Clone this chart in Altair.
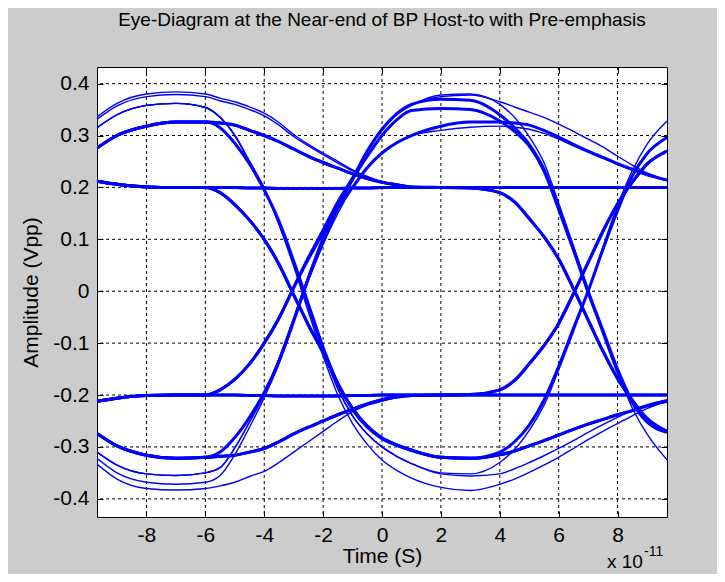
import altair as alt
import pandas as pd

FONT = "Liberation Sans"

# time axis (units of 1e-11 s)
TIME = [-9.68, -9, -8, -7, -6, -5.5, -5, -4.5, -4, -3.5, -3, -2.5, -2, -1.5, -1, -0.5, 0, 0.5, 1,
        2, 3, 4, 4.5, 5, 5.5, 6, 6.5, 7, 7.5, 8, 8.5, 9, 9.68]

# ---- left partial bit (t = -9.68 .. -6) ----
flatH = [0.212, 0.206, 0.201, 0.200, 0.200]
B_L = [0.276, 0.300, 0.318, 0.326, 0.326]
C_L = [0.315, 0.340, 0.358, 0.362, 0.354]
D_L = [0.336, 0.362, 0.380, 0.384, 0.380]
D2_L = [0.331, 0.357, 0.375, 0.379, 0.375]
flatL = [-0.212, -0.206, -0.201, -0.200, -0.200]
Bl_L = [-0.274, -0.298, -0.316, -0.322, -0.320]
Cl_L = [-0.310, -0.335, -0.352, -0.355, -0.350]
C2l_L = [-0.322, -0.350, -0.368, -0.372, -0.368]
Dl_L = [-0.333, -0.362, -0.380, -0.383, -0.380]

# ---- first transition region (t = -5.5 .. 1) ----
flat_hi = [0.200, 0.200, 0.199, 0.199, 0.198, 0.198, 0.198, 0.198, 0.198, 0.199, 0.199, 0.200, 0.200, 0.200]
F1 = [0.190, 0.167, 0.137, 0.100, 0.052, -0.007, -0.065, -0.118, -0.178, -0.226, -0.260, -0.283, -0.296, -0.306]
B_fall = [0.315, 0.285, 0.245, 0.195, 0.135, 0.058, -0.025, -0.108, -0.178, -0.228, -0.262, -0.284, -0.297, -0.307]
C_fall = [0.335, 0.300, 0.250, 0.198, 0.130, 0.052, -0.032, -0.115, -0.188, -0.240, -0.275, -0.300, -0.318, -0.332]
C_fall2 = [0.335, 0.300, 0.250, 0.198, 0.128, 0.048, -0.040, -0.125, -0.200, -0.255, -0.295, -0.325, -0.345, -0.360]
B_decay = [0.324, 0.320, 0.310, 0.300, 0.288, 0.274, 0.260, 0.248, 0.237, 0.226, 0.217, 0.210, 0.205, 0.201]
D_decay = [0.372, 0.365, 0.355, 0.343, 0.325, 0.302, 0.283, 0.266, 0.250, 0.234, 0.221, 0.211, 0.205, 0.201]
D2_decay = [0.367, 0.360, 0.350, 0.338, 0.320, 0.298, 0.280, 0.263, 0.247, 0.232, 0.219, 0.210, 0.204, 0.201]
flat_lo = [-0.200, -0.200, -0.201, -0.201, -0.202, -0.202, -0.202, -0.202, -0.202, -0.201, -0.201, -0.200, -0.200, -0.200]
R1 = [-0.190, -0.170, -0.140, -0.100, -0.052, 0.007, 0.065, 0.118, 0.172, 0.218, 0.270, 0.312, 0.342, 0.360]
R1b = [-0.190, -0.170, -0.140, -0.100, -0.052, 0.007, 0.062, 0.112, 0.160, 0.200, 0.238, 0.266, 0.286, 0.300]
Bl_rise = [-0.310, -0.282, -0.243, -0.195, -0.135, -0.058, 0.025, 0.095, 0.160, 0.215, 0.260, 0.300, 0.330, 0.348]
Cl_rise = [-0.340, -0.302, -0.252, -0.198, -0.130, -0.052, 0.030, 0.105, 0.165, 0.218, 0.270, 0.310, 0.340, 0.358]
C2l_rise = [-0.355, -0.315, -0.262, -0.205, -0.140, -0.060, 0.020, 0.090, 0.150, 0.200, 0.240, 0.268, 0.287, 0.300]
Bl_decay = [-0.318, -0.316, -0.310, -0.303, -0.290, -0.275, -0.262, -0.250, -0.238, -0.227, -0.217, -0.209, -0.204, -0.201]
Dl_decay = [-0.375, -0.368, -0.357, -0.347, -0.330, -0.310, -0.290, -0.270, -0.250, -0.232, -0.220, -0.212, -0.205, -0.201]

# ---- middle bit and second transition (t = 2 .. 9.68) ----
flatM_hi = [0.200, 0.200, 0.200, 0.200, 0.200, 0.200, 0.200, 0.200, 0.200, 0.200, 0.200, 0.200, 0.200, 0.200]
F2 = [0.200, 0.199, 0.190, 0.172, 0.140, 0.105, 0.062, 0.005, -0.055, -0.115, -0.168, -0.210, -0.245, -0.270]
H37_fall = [0.370, 0.368, 0.340, 0.315, 0.283, 0.235, 0.160, 0.082, 0.000, -0.075, -0.150, -0.212, -0.250, -0.270]
H35_fall = [0.352, 0.350, 0.328, 0.308, 0.280, 0.232, 0.158, 0.080, -0.002, -0.078, -0.155, -0.215, -0.252, -0.272]
H38_fall = [0.378, 0.380, 0.360, 0.335, 0.298, 0.248, 0.170, 0.088, 0.003, -0.078, -0.155, -0.225, -0.275, -0.325]
H38_decay = [0.375, 0.378, 0.365, 0.355, 0.345, 0.335, 0.322, 0.308, 0.293, 0.278, 0.260, 0.243, 0.228, 0.214]
H33_decay = [0.318, 0.326, 0.326, 0.324, 0.320, 0.310, 0.297, 0.283, 0.270, 0.258, 0.246, 0.235, 0.225, 0.214]
H32_decay = [0.310, 0.316, 0.318, 0.316, 0.312, 0.304, 0.293, 0.280, 0.268, 0.256, 0.244, 0.233, 0.223, 0.213]
flatM_lo = [-0.200, -0.200, -0.200, -0.200, -0.200, -0.200, -0.200, -0.200, -0.200, -0.200, -0.200, -0.200, -0.200, -0.200]
R2 = [-0.200, -0.199, -0.190, -0.172, -0.140, -0.105, -0.062, -0.005, 0.055, 0.115, 0.168, 0.210, 0.245, 0.270]
L32_rise = [-0.320, -0.322, -0.310, -0.290, -0.258, -0.210, -0.145, -0.072, 0.000, 0.080, 0.155, 0.222, 0.265, 0.296]
L35_rise = [-0.350, -0.352, -0.330, -0.305, -0.268, -0.220, -0.152, -0.078, 0.000, 0.085, 0.165, 0.232, 0.283, 0.328]
L32_decay = [-0.320, -0.322, -0.315, -0.308, -0.298, -0.288, -0.277, -0.266, -0.256, -0.247, -0.238, -0.230, -0.221, -0.212]
L35_decay = [-0.352, -0.356, -0.352, -0.342, -0.330, -0.317, -0.303, -0.288, -0.272, -0.257, -0.243, -0.230, -0.219, -0.209]
L38_decay = [-0.378, -0.384, -0.372, -0.362, -0.349, -0.335, -0.320, -0.303, -0.286, -0.270, -0.255, -0.240, -0.226, -0.212]

TRACES = [
    ("u1", flatH, flat_hi, flatM_hi, "thick"),
    ("u2", flatH, flat_hi, F2, "thick"),
    ("u3", flatH, F1, L32_decay, "thick"),
    ("u4", flatH, F1, L32_rise, "thick"),
    ("u5", B_L, B_decay, flatM_hi, "thick"),
    ("u6", B_L, B_decay, F2, "thick"),
    ("u7", D_L, D_decay, flatM_hi, "thin"),
    ("u7b", D2_L, D2_decay, flatM_hi, "thin"),
    ("u8", B_L, B_fall, L32_decay, "thick"),
    ("u9", C_L, C_fall, L35_rise, "thin"),
    ("u10", C_L, C_fall, L35_decay, "thin"),
    ("u11", C_L, C_fall2, L38_decay, "thin"),
    ("l1", flatL, flat_lo, flatM_lo, "thick"),
    ("l2", flatL, flat_lo, R2, "thick"),
    ("l3", flatL, R1, H37_fall, "thick"),
    ("l3b", flatL, R1b, H33_decay, "thick"),
    ("l4", Bl_L, Bl_decay, flatM_lo, "thick"),
    ("l5", Bl_L, Bl_decay, R2, "thick"),
    ("l6", Dl_L, Dl_decay, flatM_lo, "thin"),
    ("l7", Bl_L, Bl_rise, H35_fall, "thick"),
    ("l8", Cl_L, Cl_rise, H38_fall, "thin"),
    ("l9", Cl_L, Cl_rise, H38_decay, "thin"),
    ("l10", C2l_L, C2l_rise, H32_decay, "thin"),
]
WIDTHS = {"thick": 3.0, "thin": 1.4}

rows = []
for name, a, b, c, kind in TRACES:
    vals = a + b + c
    for t, v in zip(TIME, vals):
        rows.append({"t": t, "v": v, "trace": name, "w": WIDTHS[kind]})
df = pd.DataFrame(rows)

X_TICKS = [-8, -6, -4, -2, 0, 2, 4, 6, 8]
Y_TICKS = [-0.4, -0.3, -0.2, -0.1, 0, 0.1, 0.2, 0.3, 0.4]

xscale = alt.Scale(domain=[-9.68, 9.68], nice=False, zero=False)
yscale = alt.Scale(domain=[-0.435, 0.432], nice=False, zero=False)

TICK = 6
LBL = 21

x_axis = alt.Axis(orient="bottom", values=X_TICKS, grid=False, domain=False,
                  tickSize=TICK, offset=-TICK, tickColor="black", tickWidth=1,
                  labelPadding=7, labelFont=FONT, labelFontSize=LBL, labelColor="black",
                  labelExpr="(datum.value < 0 ? '-' : '') + format(abs(datum.value), 'd')",
                  title="Time (S)", titleFont=FONT, titleFontSize=LBL, titleFontWeight="normal",
                  titleColor="black", titlePadding=0)
y_axis = alt.Axis(orient="left", values=Y_TICKS, grid=False, domain=False,
                  tickSize=TICK, offset=-TICK, tickColor="black", tickWidth=1,
                  labelPadding=8, labelFont=FONT, labelFontSize=LBL, labelColor="black",
                  labelExpr="datum.value == 0 ? '0' : (datum.value < 0 ? '-' : '') + format(abs(datum.value), '.1f')",
                  title="Amplitude (Vpp)", titleFont=FONT, titleFontSize=LBL, titleFontWeight="normal",
                  titleColor="black", titlePadding=11)

xgrid = alt.Chart(pd.DataFrame({"gt": X_TICKS})).mark_rule(
    color="black", strokeDash=[3, 3], strokeWidth=1
).encode(
    x=alt.X("gt:Q", scale=xscale,
            axis=alt.Axis(orient="top", values=X_TICKS, labels=False, title=None, domain=False, grid=False,
                          tickSize=TICK, offset=-TICK, tickColor="black"))
)
ygrid = alt.Chart(pd.DataFrame({"gv": Y_TICKS})).mark_rule(
    color="black", strokeDash=[3, 3], strokeWidth=1
).encode(
    y=alt.Y("gv:Q", scale=yscale,
            axis=alt.Axis(orient="right", values=Y_TICKS, labels=False, title=None, domain=False, grid=False,
                          tickSize=TICK, offset=-TICK, tickColor="black"))
)

lines = alt.Chart(df).mark_line(interpolate="monotone", color="#0000ff", clip=True).encode(
    x=alt.X("t:Q", scale=xscale, axis=x_axis),
    y=alt.Y("v:Q", scale=yscale, axis=y_axis),
    detail="trace:N",
    strokeWidth=alt.StrokeWidth("w:Q", scale=None),
)

exp_base = alt.Chart(pd.DataFrame({"s": ["x 10"]})).mark_text(
    align="left", baseline="alphabetic", font=FONT, fontSize=19, color="black"
).encode(text="s:N", x=alt.value(510), y=alt.value(501))
exp_sup = alt.Chart(pd.DataFrame({"s": ["-11"]})).mark_text(
    align="left", baseline="alphabetic", font=FONT, fontSize=14, color="black"
).encode(text="s:N", x=alt.value(547), y=alt.value(489))

chart = alt.layer(xgrid, ygrid, lines, exp_base, exp_sup).properties(
    width=570, height=450,
    padding={"left": 89, "top": 59, "right": 50, "bottom": 57},
    autosize=alt.AutoSizeParams(type="none"),
    background="#cccccc",
    title=alt.TitleParams(
        text="Eye-Diagram at the Near-end of BP Host-to with Pre-emphasis",
        font=FONT, fontSize=19, fontWeight="normal", color="black", anchor="middle", offset=37
    ),
).configure_view(stroke="black", strokeWidth=1, fill="white")

chart.save("out.html", embed_options={"renderer": "svg", "actions": False})
